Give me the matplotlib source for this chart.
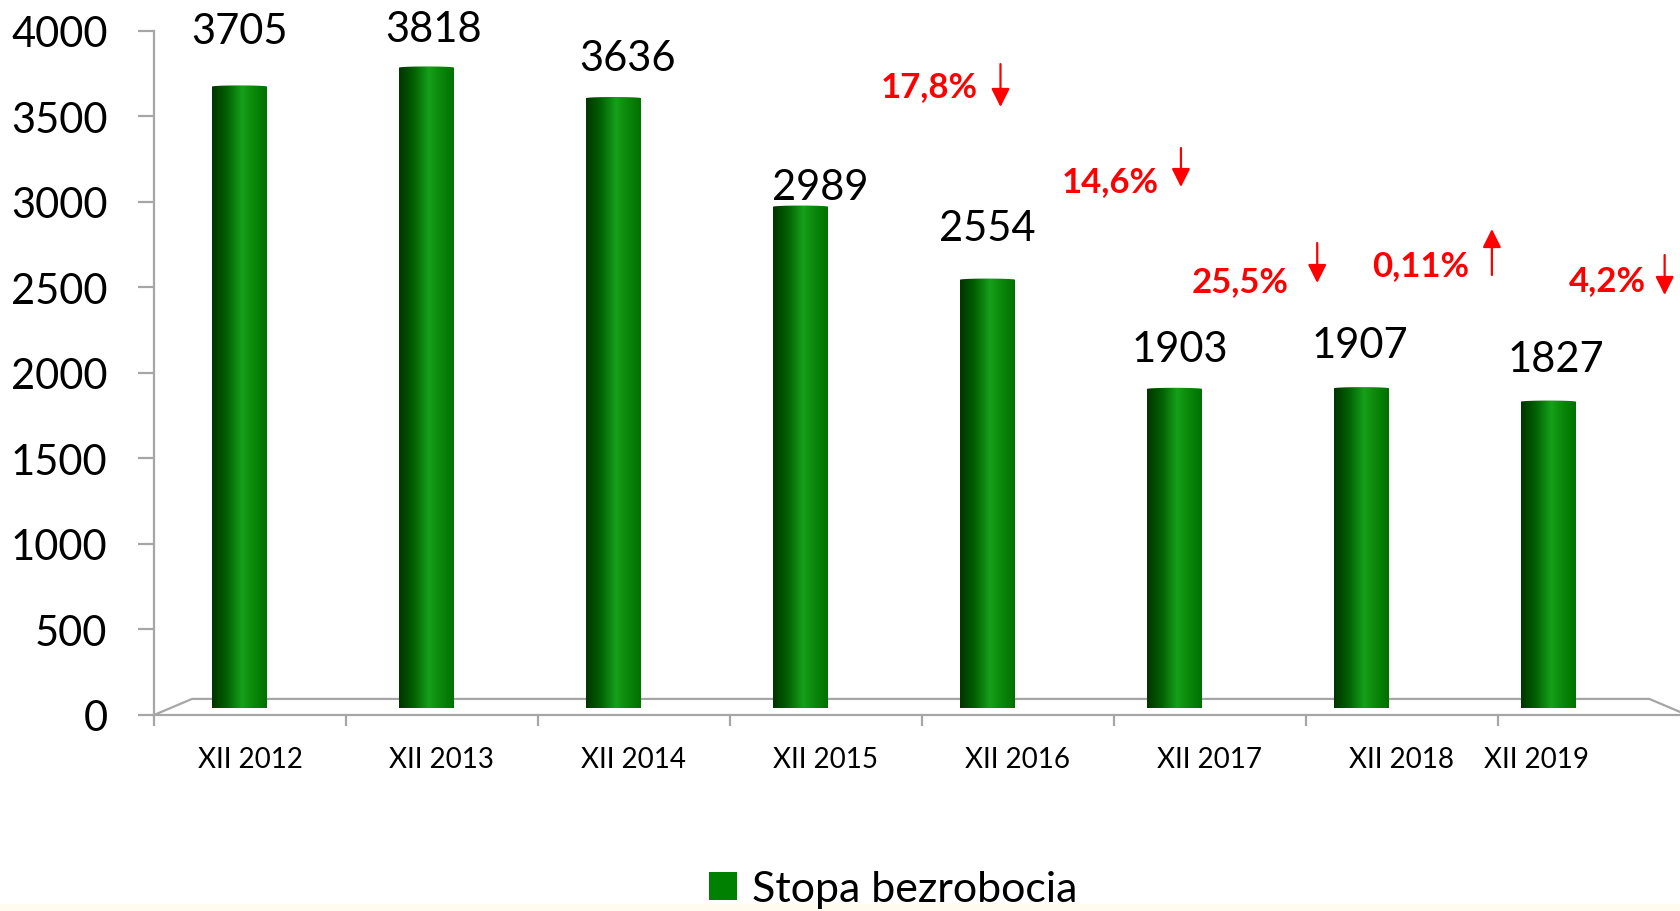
import numpy as np
import matplotlib
matplotlib.use("Agg")
import matplotlib.pyplot as plt
from matplotlib.colors import LinearSegmentedColormap
from matplotlib.patches import PathPatch, Rectangle
from matplotlib.path import Path

plt.rcParams['font.family'] = ['Lato', 'DejaVu Sans']

# dane
categories = ['XII 2012', 'XII 2013', 'XII 2014', 'XII 2015',
              'XII 2016', 'XII 2017', 'XII 2018', 'XII 2019']
values = [3705, 3818, 3636, 2989, 2554, 1903, 1907, 1827]
series_name = 'Stopa bezrobocia'
pct_labels = ['17,8%', '14,6%', '25,5%', '0,11%', '4,2%']
pct_up = [False, False, False, True, False]
yticks = [0, 500, 1000, 1500, 2000, 2500, 3000, 3500, 4000]

# uklad (recznie dopasowane przesuniecia etykiet, w punktach)
label_dx = [0, 5, 10, 14, 0, 4, -1, 5]
label_dy = [40, 28, 29, 14.5, 37, 29, 31, 31]
label_pos = [0.5, 1.5, 2.5, 3.5, 4.5, 5.5, 6.5, 7.2]
pct_text_xy = [(4.04, 3676), (4.98, 3121), (5.66, 2537), (6.60, 2630), (7.57, 2543)]
pct_arrow = [(4.41, 3805, 3554), (5.35, 3314, 3086), (6.06, 2759, 2525),
             (6.97, 2572, 2841), (7.87, 2689, 2455)]

gray = '#a6a6a6'
W, H = 1680, 912
fig = plt.figure(figsize=(16.8, 9.12), dpi=100)
fig.patches.append(Rectangle((0, 0), 1, 7 / H, transform=fig.transFigure,
                             color='#fffcef', zorder=0))

# os przednia (skala i podloga)
ax = fig.add_axes([154 / W, 1 - 716 / H, 1 - 154 / W, (716 - 31.7) / H])
ax.set_xlim(0, 7.95)
ax.set_ylim(0, 4000)
ax.patch.set_visible(False)
for s in ['top', 'right']:
    ax.spines[s].set_visible(False)
for s in ['left', 'bottom']:
    ax.spines[s].set_color(gray)
    ax.spines[s].set_linewidth(1.6)
ax.set_yticks(yticks)
ax.tick_params(axis='y', length=11.5, width=1.6, color=gray, pad=22,
               labelsize=30, labelcolor='black')
ax.set_xticks(range(8))
ax.set_xticklabels([])
ax.set_xticks(label_pos, minor=True)
ax.set_xticklabels(categories, minor=True)
ax.tick_params(axis='x', which='major', length=8, width=1.6, color=gray)
ax.tick_params(axis='x', which='minor', length=0, pad=22, labelsize=20)

# podloga 3D
dxf, dyf = 0.198, 94
ax.plot([0, dxf, 7.79, 7.79 + dxf], [0, dyf, dyf, 0], color=gray, lw=1.6,
        clip_on=False, zorder=1)

# os srodkowej glebokosci dla slupkow
axb = fig.add_axes([146 / W, 1 - 709.3 / H, 187 * 8 / W, 671.2 / H])
axb.set_axis_off()
axb.set_zorder(ax.get_zorder() + 1)

cmap = LinearSegmentedColormap.from_list(
    'cyl', [(0, '#003400'), (0.25, '#005e00'), (0.55, '#16a01a'),
            (0.7, '#0d8e0d'), (1.0, '#007000')])
grad = np.linspace(0, 1, 256).reshape(1, -1)

bw = 0.294
eh_bot = 36
eh_top = 14
xs = np.arange(len(values)) + 0.5
for i, (x, v) in enumerate(zip(xs, values)):
    x0, x1 = x - bw / 2, x + bw / 2
    t_bot = np.linspace(np.pi, 2 * np.pi, 40)
    t_top = np.linspace(0, np.pi, 40)
    arc_bot = np.column_stack([x + bw / 2 * np.cos(t_bot), eh_bot / 2 * np.sin(t_bot)])
    arc_top = np.column_stack([x + bw / 2 * np.cos(t_top), v + eh_top / 2 * np.sin(t_top)])
    verts = np.vstack([arc_bot, arc_top, arc_bot[:1]])
    clip = PathPatch(Path(verts, closed=True), transform=axb.transData,
                     facecolor='none', edgecolor='none')
    axb.add_patch(clip)
    im = axb.imshow(grad, extent=(x0, x1, -eh_bot / 2, v + eh_top / 2),
                    aspect='auto', cmap=cmap, zorder=2)
    im.set_clip_path(clip)
    axb.annotate(str(v), (x, v), xytext=(label_dx[i], label_dy[i]),
                 textcoords='offset points', ha='center', va='center',
                 fontsize=30, color='black', annotation_clip=False)

axb.set_xlim(0, 8)
axb.set_ylim(0, 4000)

# zmiany procentowe
for lab, up, (tx, ty), (axx, y0, y1) in zip(pct_labels, pct_up, pct_text_xy, pct_arrow):
    ax.text(tx, ty, lab, color='red', fontsize=25, fontweight='bold',
            ha='center', va='center', clip_on=False)
    ax.annotate('', xy=(axx, y1), xytext=(axx, y0),
                arrowprops=dict(arrowstyle='-|>,head_length=0.4,head_width=0.2',
                                color='red', lw=1.6, mutation_scale=28,
                                shrinkA=0, shrinkB=0),
                annotation_clip=False)

# legenda
handle = Rectangle((0, 0), 1, 1, facecolor='#008000')
fig.legend([handle], [series_name], loc='center', bbox_to_anchor=(893 / W, 1 - 890 / H),
           frameon=False, fontsize=31, handlelength=0.65, handleheight=0.62,
           handletextpad=0.34, borderpad=0)

fig.savefig('out.png', dpi=100)
